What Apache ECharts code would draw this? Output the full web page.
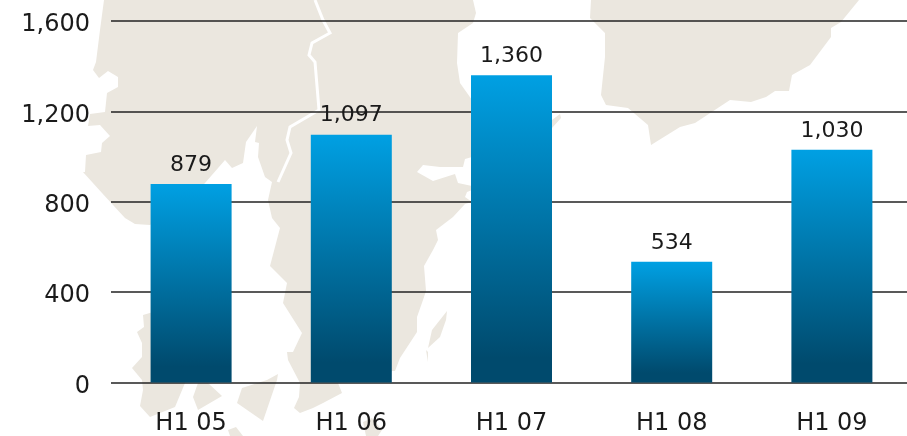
<!DOCTYPE html>
<html>
<head>
<meta charset="utf-8">
<style>html,body{margin:0;padding:0;background:#fff}#c{width:907px;height:436px}</style>
<script src="https://cdn.jsdelivr.net/npm/echarts@6/dist/echarts.min.js"></script>
</head>
<body>
<div id="c"></div>
<script>
const categories = ['H1 05', 'H1 06', 'H1 07', 'H1 08', 'H1 09'];
const values = [879, 1097, 1360, 534, 1030];
const axisMax = 1600;
const axisStep = 400;

// Decorative map silhouette behind the chart
const landMain = [[104,0],[473,0],[476,13],[473,23],[458,33],[457,63],[460,83],[472,100],[500,125],[552,120],[560,114],[561,118],[552,128],[500,150],[472,157],[465,159],[463,167],[440,167],[423,165],[417,172],[433,181],[455,174],[458,183],[472,186],[472,190],[467,192],[465,197],[472,202],[465,204],[453,217],[436,230],[438,240],[433,250],[424,266],[426,291],[423,300],[417,317],[417,332],[400,358],[395,371],[392,371],[380,380],[338,383],[342,393],[323,403],[313,408],[300,413],[294,408],[299,397],[300,383],[288,360],[287,352],[293,352],[302,333],[283,303],[285,293],[287,283],[270,266],[280,228],[272,218],[268,200],[272,182],[265,177],[258,157],[259,143],[255,142],[257,126],[246,142],[243,163],[232,168],[225,160],[205,183],[190,200],[150,225],[135,224],[125,218],[102,193],[83,172],[85,172],[86,155],[101,152],[102,143],[110,136],[100,125],[88,126],[90,114],[105,112],[107,93],[118,87],[118,77],[108,71],[99,78],[93,70],[96,62],[100,30]];
const landEast = [[591,0],[859,0],[841,22],[831,28],[831,37],[810,65],[792,75],[789,91],[775,91],[766,97],[751,102],[730,100],[695,123],[680,127],[651,145],[648,125],[628,108],[606,105],[601,95],[605,57],[605,33],[590,18]];
const landLobe = [[143,315],[144,327],[137,332],[142,343],[142,357],[132,368],[142,380],[143,390],[140,406],[150,417],[175,407],[185,383],[200,350],[160,310]];
const islandA = [[198,383],[193,397],[198,410],[222,396],[208,383]];
const islandB = [[278,374],[277,380],[263,421],[237,403],[242,388],[267,380]];
const islandC = [[228,430],[236,427],[243,436],[230,436]];
const islandD = [[363,422],[372,418],[382,430],[378,436],[366,436]];
const islandE = [[447,311],[432,330],[428,348],[440,337],[446,320]];
const sliver = [[426,350],[428,352],[428,362]];
const river = [[315,0],[323,20],[330,33],[312,43],[309,55],[315,62],[319,110],[290,127],[287,140],[291,153],[278,182]];

const landColor = '#ebe7df';
const textColor = '#1a1a1a';
const landShapes = [landMain, landEast, landLobe, islandA, islandB, islandC, islandD, islandE, sliver].map(points => ({
  type: 'polygon', silent: true, z: -10,
  shape: { points }, style: { fill: landColor }
}));
landShapes.push({
  type: 'polyline', silent: true, z: -9,
  shape: { points: river }, style: { stroke: '#fff', lineWidth: 3, fill: null }
});

const chart = echarts.init(document.getElementById('c'), null, { renderer: 'canvas' });
const fmt = v => Number(v).toLocaleString('en-US');
chart.setOption({
  animation: false,
  backgroundColor: '#fff',
  textStyle: { fontFamily: 'DejaVu Sans' },
  graphic: { elements: landShapes },
  grid: { left: 111, width: 801, top: 21, bottom: 53.5, containLabel: false, outerBoundsMode: 'none' },
  xAxis: {
    type: 'category', data: categories,
    axisLine: { show: false }, axisTick: { show: false },
    axisLabel: { color: textColor, fontSize: 24, margin: 29, fontFamily: 'DejaVu Sans' }
  },
  yAxis: {
    type: 'value', min: 0, max: axisMax, interval: axisStep,
    axisLine: { show: false }, axisTick: { show: false },
    axisLabel: { color: textColor, fontSize: 24, margin: 21, formatter: fmt, fontFamily: 'DejaVu Sans', verticalAlign: 'top', padding: [-8, 0, 0, 0] },
    splitLine: { show: true, lineStyle: { color: '#222', width: 1.5 } }
  },
  series: [{
    type: 'bar', data: values, barWidth: 81,
    itemStyle: {
      color: new echarts.graphic.LinearGradient(0, 0, 0, 1, [
        { offset: 0, color: '#00a0e3' },
        { offset: 0.92, color: '#004a6d' },
        { offset: 1, color: '#004a6d' }
      ])
    },
    label: { show: true, position: 'top', distance: 8, color: textColor, fontSize: 22, formatter: p => fmt(p.value), fontFamily: 'DejaVu Sans' }
  }]
});
</script>
</body>
</html>
